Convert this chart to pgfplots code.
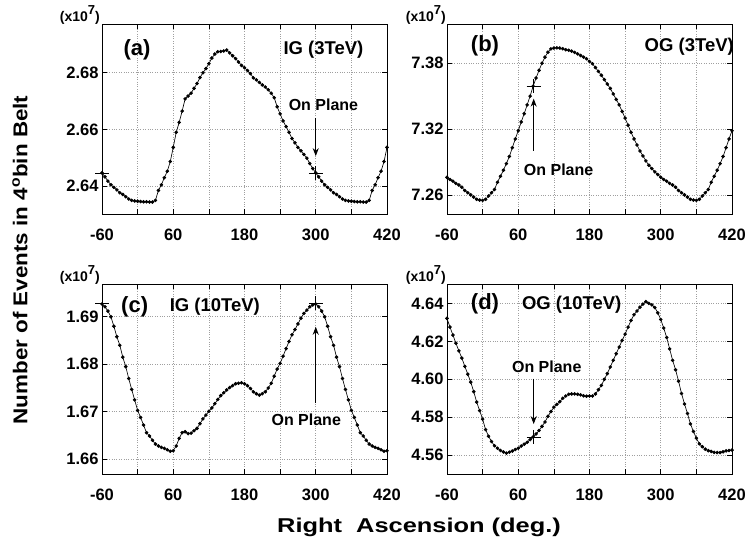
\documentclass[border=0pt]{standalone}
\usepackage{pgfplots}
\pgfplotsset{compat=1.18}
\usepackage{fontspec}
\setmainfont{Liberation Sans}
\usetikzlibrary{arrows.meta}
\newcommand{\fs}[1]{\fontsize{#1}{#1}\selectfont\bfseries}
\tikzset{arr/.style={-{Stealth[length=8pt,width=6pt]}, line width=1pt}}
\pgfplotsset{
  panel/.style={
    width=285pt, height=190pt, scale only axis,
    xmin=-60, xmax=420,
    xtick={-60,0,...,420},
    xticklabels={-60,,60,,180,,300,,420},
    grid=major, grid style={dotted, gray!75, line width=0.6pt},
    tick align=inside, major tick length=5pt,
    tick style={black, line width=0.7pt},
    axis line style={line width=0.9pt},
    ticklabel style={font=\fs{16.5}},
    /pgf/number format/assume math mode=true,
    yticklabel style={/pgf/number format/.cd, fixed, fixed zerofill, precision=2},
    xticklabel style={yshift=-11pt},
    clip=false,
  },
  curve/.style={black, line width=0.65pt, mark=*, mark size=1.45pt},
  cross/.style={black, only marks, mark=+, mark size=7pt, line width=0.6pt, mark options={line width=0.6pt}},
}
\begin{document}
\begin{tikzpicture}[x=1pt,y=1pt]
\useasboundingbox (0pt,0pt) rectangle (748pt,-557pt);
% (a)
\begin{axis}[panel, at={(102pt,-24pt)}, anchor=north west, ymin=2.6302, ymax=2.6972, ytick={2.64,2.66,2.68}]
\addplot[curve] coordinates {(-60,2.6447)(-55,2.6433)(-50,2.6418)(-45,2.6405)(-40,2.6396)(-35,2.6387)(-30,2.6377)(-25,2.6371)(-20,2.6363)(-15,2.6355)(-10,2.6350)(-5,2.6348)
(0,2.6347)(5,2.6346)(10,2.6345)(15,2.6345)(20,2.6344)(25,2.6344)(30,2.6350)(35,2.6385)(40,2.6405)(45,2.6430)(50,2.6453)(55,2.6487)(60,2.6537)(65,2.6590)(70,2.6625)(75,2.6665)(80,2.6708)(85,2.6718)(90,2.6728)(95,2.6745)(100,2.6762)(105,2.6783)(110,2.6800)(115,2.6815)(120,2.6832)(125,2.6852)(130,2.6866)(135,2.6874)(140,2.6875)(145,2.6877)(150,2.6880)(155,2.6870)(160,2.6860)(165,2.6850)(170,2.6838)(175,2.6826)(180,2.6818)(185,2.6808)(190,2.6797)(195,2.6782)(200,2.6775)(205,2.6766)(210,2.6757)(215,2.6750)(220,2.6740)(225,2.6728)(230,2.6712)(235,2.6680)(240,2.6655)(245,2.6630)(250,2.6610)(255,2.6590)(260,2.6568)(265,2.6553)(270,2.6537)(275,2.6525)(280,2.6512)(285,2.6499)(290,2.6480)(295,2.6462)(300,2.6447)(305,2.6433)(310,2.6418)(315,2.6405)(320,2.6396)(325,2.6387)(330,2.6377)(335,2.6371)(340,2.6363)(345,2.6355)(350,2.6350)(355,2.6348)
(360,2.6347)(365,2.6346)(370,2.6345)(375,2.6345)(380,2.6344)(385,2.6344)(390,2.6350)(395,2.6385)(400,2.6405)(405,2.6430)(410,2.6453)(415,2.6487)(420,2.6537)};
\addplot[cross] coordinates {(-60,2.6447)(300,2.6447)};
\draw[arr] (axis cs:300,2.6641) -- (axis cs:300,2.6506);
\node[font=\fs{16}] at (axis cs:313,2.6688) {On Plane};
\node[font=\fs{22}] at (axis cs:-1,2.6882) {(a)};
\node[font=\fs{18.5}] at (axis cs:313,2.6882) {IG (3TeV)};
\end{axis}
% (b)
\begin{axis}[panel, at={(447pt,-24pt)}, anchor=north west, ymin=7.2426, ymax=7.4157, ytick={7.26,7.32,7.38}]
\addplot[curve] coordinates {(-60,7.2760)(-55,7.2740)(-50,7.2725)(-45,7.2705)(-40,7.2690)(-35,7.2670)(-30,7.2640)(-25,7.2620)(-20,7.2600)(-15,7.2580)(-10,7.2560)(-5,7.2553)
(0,7.2550)(5,7.2560)(10,7.2590)(15,7.2620)(20,7.2650)(25,7.2715)(30,7.2770)(35,7.2825)(40,7.2885)(45,7.2950)(50,7.3030)(55,7.3110)(60,7.3185)(65,7.3265)(70,7.3340)(75,7.3420)(80,7.3500)(85,7.3590)(90,7.3665)(95,7.3735)(100,7.3800)(105,7.3855)(110,7.3900)(115,7.3930)(120,7.3938)(125,7.3940)(130,7.3938)(135,7.3932)(140,7.3923)(145,7.3918)(150,7.3910)(155,7.3898)(160,7.3885)(165,7.3870)(170,7.3855)(175,7.3840)(180,7.3815)(185,7.3795)(190,7.3760)(195,7.3725)(200,7.3690)(205,7.3650)(210,7.3610)(215,7.3570)(220,7.3520)(225,7.3470)(230,7.3420)(235,7.3360)(240,7.3300)(245,7.3235)(250,7.3170)(255,7.3110)(260,7.3055)(265,7.3000)(270,7.2955)(275,7.2910)(280,7.2870)(285,7.2840)(290,7.2810)(295,7.2785)(300,7.2760)(305,7.2740)(310,7.2725)(315,7.2705)(320,7.2690)(325,7.2670)(330,7.2640)(335,7.2620)(340,7.2600)(345,7.2580)(350,7.2560)(355,7.2553)
(360,7.2550)(365,7.2560)(370,7.2590)(375,7.2620)(380,7.2650)(385,7.2715)(390,7.2770)(395,7.2825)(400,7.2885)(405,7.2950)(410,7.3030)(415,7.3110)(420,7.3185)};
\addplot[cross] coordinates {(86,7.3591)};
\draw[arr] (axis cs:86,7.3000) -- (axis cs:86,7.3477);
\node[font=\fs{16}] at (axis cs:128,7.2831) {On Plane};
\node[font=\fs{22}] at (axis cs:4,7.3954) {(b)};
\node[font=\fs{18.5}] at (axis cs:348,7.3954) {OG (3TeV)};
\end{axis}
% (c)
\begin{axis}[panel, at={(102pt,-284pt)}, anchor=north west, ymin=1.6569, ymax=1.6969, ytick={1.66,1.67,1.68,1.69}]
\addplot[curve] coordinates {(-60,1.6927)(-55,1.6921)(-50,1.6912)(-45,1.6900)(-40,1.6880)(-35,1.6858)(-30,1.6840)(-25,1.6815)(-20,1.6795)(-15,1.6770)(-10,1.6747)(-5,1.6725)
(0,1.6703)(5,1.6688)(10,1.6672)(15,1.6656)(20,1.6649)(25,1.6640)(30,1.6632)(35,1.6628)(40,1.6625)(45,1.6623)(50,1.6620)(55,1.6617)(60,1.6618)(65,1.6628)(70,1.6644)(75,1.6656)(80,1.6658)(85,1.6654)(90,1.6655)(95,1.6660)(100,1.6665)(105,1.6675)(110,1.6685)(115,1.6693)(120,1.6701)(125,1.6708)(130,1.6717)(135,1.6726)(140,1.6734)(145,1.6740)(150,1.6746)(155,1.6751)(160,1.6755)(165,1.6759)(170,1.6760)(175,1.6761)(180,1.6759)(185,1.6755)(190,1.6749)(195,1.6742)(200,1.6738)(205,1.6735)(210,1.6738)(215,1.6742)(220,1.6750)(225,1.6760)(230,1.6775)(235,1.6790)(240,1.6802)(245,1.6817)(250,1.6833)(255,1.6848)(260,1.6862)(265,1.6873)(270,1.6885)(275,1.6897)(280,1.6907)(285,1.6914)(290,1.6921)(295,1.6925)(300,1.6927)(305,1.6921)(310,1.6912)(315,1.6900)(320,1.6880)(325,1.6858)(330,1.6840)(335,1.6815)(340,1.6795)(345,1.6770)(350,1.6747)(355,1.6725)
(360,1.6703)(365,1.6688)(370,1.6672)(375,1.6656)(380,1.6649)(385,1.6640)(390,1.6632)(395,1.6628)(400,1.6625)(405,1.6623)(410,1.6620)(415,1.6617)(420,1.6618)};
\addplot[cross] coordinates {(-60,1.6929)(300,1.6929)};
\draw[arr] (axis cs:300,1.6718) -- (axis cs:300,1.6879);
\node[font=\fs{16}] at (axis cs:284,1.6684) {On Plane};
\node[font=\fs{22}] at (axis cs:-5,1.6921) {(c)};
\node[font=\fs{18.5}] at (axis cs:130,1.6921) {IG (10TeV)};
\end{axis}
% (d)
\begin{axis}[panel, at={(447pt,-284pt)}, anchor=north west, ymin=4.5501, ymax=4.6502, ytick={4.56,4.58,4.60,4.62,4.64}]
\addplot[curve] coordinates {(-60,4.6321)(-55,4.6275)(-50,4.6233)(-45,4.6190)(-40,4.6150)(-35,4.6112)(-30,4.6068)(-25,4.6027)(-20,4.5985)(-15,4.5935)(-10,4.5880)(-5,4.5835)(0,4.5790)(5,4.5735)(10,4.5700)(15,4.5672)(20,4.5650)(25,4.5637)(30,4.5625)(35,4.5617)(40,4.5611)(45,4.5616)(50,4.5622)(55,4.5630)(60,4.5637)(65,4.5648)(70,4.5658)(75,4.5668)(80,4.5682)(85,4.5696)(90,4.5712)(95,4.5730)(100,4.5752)(105,4.5775)(110,4.5805)(115,4.5830)(120,4.5853)(125,4.5868)(130,4.5882)(135,4.5900)(140,4.5912)(145,4.5921)(150,4.5923)(155,4.5923)(160,4.5921)(165,4.5918)(170,4.5913)(175,4.5911)(180,4.5912)(185,4.5912)(190,4.5923)(195,4.5945)(200,4.5968)(205,4.6000)(210,4.6030)(215,4.6065)(220,4.6100)(225,4.6135)(230,4.6170)(235,4.6205)(240,4.6238)(245,4.6275)(250,4.6310)(255,4.6340)(260,4.6360)(265,4.6380)(270,4.6396)(275,4.6409)(280,4.6400)(285,4.6392)(290,4.6378)(295,4.6350)(300,4.6315)(305,4.6270)(310,4.6220)(315,4.6160)(320,4.6100)(325,4.6050)(330,4.5990)(335,4.5925)(340,4.5870)(345,4.5820)(350,4.5765)(355,4.5725)(360,4.5690)(365,4.5660)(370,4.5645)(375,4.5632)(380,4.5624)(385,4.5620)(390,4.5615)(395,4.5614)(400,4.5614)(405,4.5618)(410,4.5623)(415,4.5625)(420,4.5627)};
\addplot[cross] coordinates {(86,4.5697)};
\draw[arr] (axis cs:86,4.6003) -- (axis cs:86,4.5764);
\node[font=\fs{16}] at (axis cs:108,4.6064) {On Plane};
\node[font=\fs{22}] at (axis cs:4,4.6400) {(d)};
\node[font=\fs{18.5}] at (axis cs:150,4.6391) {OG (10TeV)};
\end{axis}
% multipliers
\foreach \xx/\yy in {100/-21, 446/-21, 100/-281, 446/-281}{
  \node[anchor=base east, font=\fs{14}, inner sep=0pt] at (\xx pt,\yy pt) {(x10\raisebox{7pt}{\fs{13}7})};
}
% axis labels
\node[rotate=90, font=\fs{20}] at (20pt,-260pt) {\scalebox{1.12}[1]{Number of Events in 4\textsuperscript{o}bin Belt}};
\node[font=\fs{20}] at (419pt,-527pt) {\scalebox{1.27}[1]{Right\ \ Ascension (deg.)}};
\end{tikzpicture}
\end{document}
